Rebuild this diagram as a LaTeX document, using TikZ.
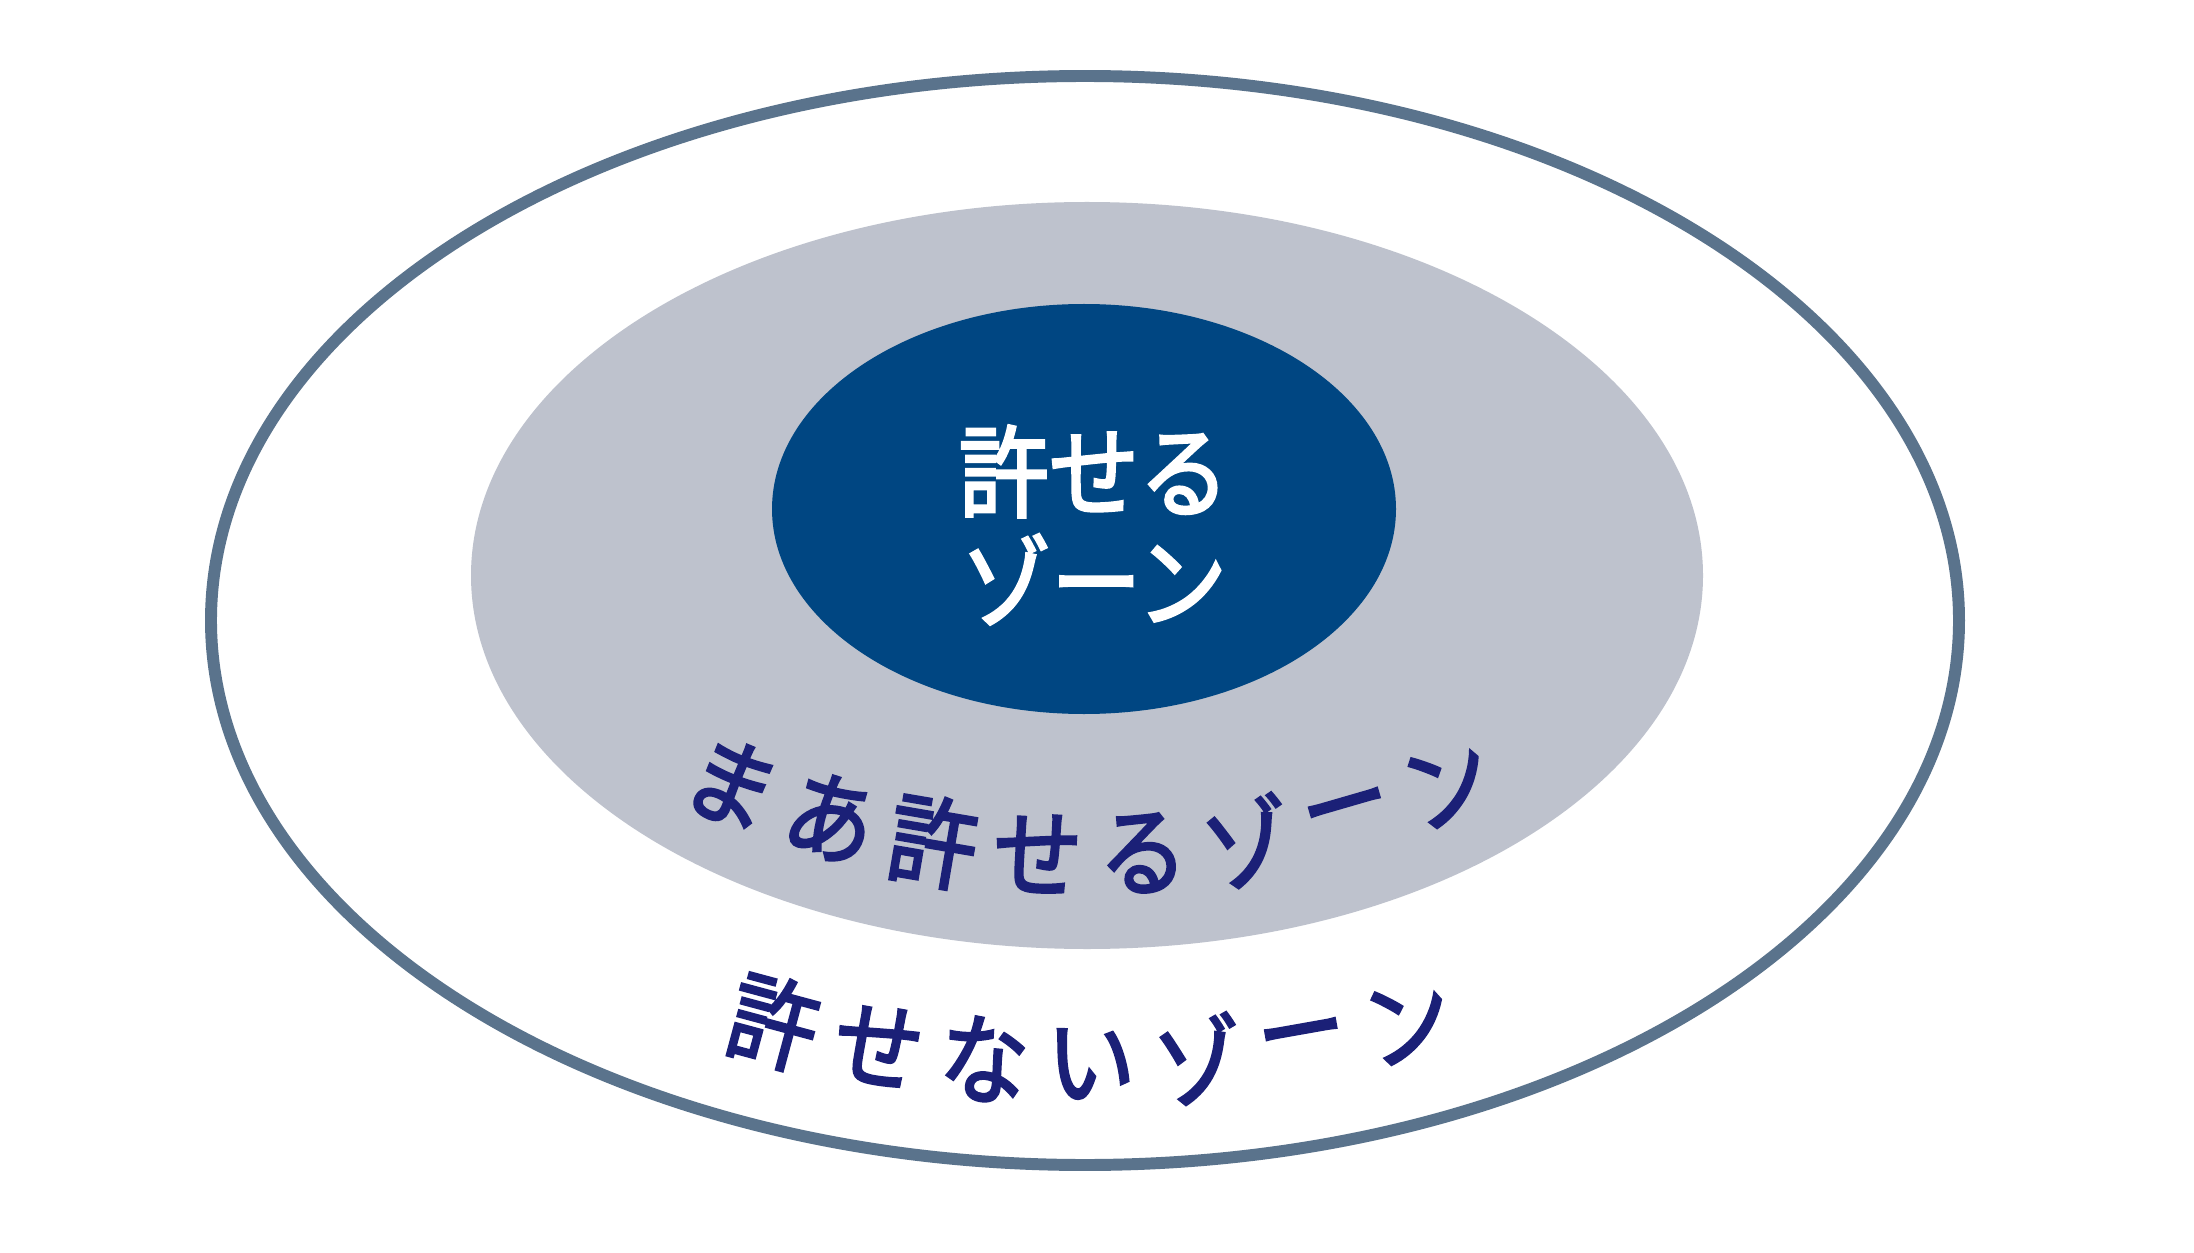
\documentclass[tikz,border=0pt]{standalone}
\usepackage{fontspec}
\newfontfamily\jpfont{Noto Sans CJK JP}[FakeStretch=0.9,FakeBold=2.6]
\usetikzlibrary{positioning,shapes}
\definecolor{zoneline}{HTML}{5A738C}
\definecolor{zonegray}{HTML}{BEC2CD}
\definecolor{zoneblue}{HTML}{004682}
\definecolor{zonenavy}{HTML}{1B2077}
\tikzstyle{zone}=[ellipse,inner sep=0pt]
\tikzstyle{zonetext}=[inner sep=0pt,text=zonenavy,font=\jpfont\fontsize{28pt}{31pt}\selectfont]
\newcommand{\newZone}[5]{\node[zone,#4,minimum width=#2,minimum height=#3](#1) at #5 {};}
\newcommand{\arcText}[6]{%
  \foreach \ch [count=\i, evaluate=\i as \ang using {(\i-1-(#6-1)/2)*#4}] in {#5}
    \node[zonetext,rotate=\ang] (#1-\i) at ([shift={(270+\ang:#3)}]#1-c) {\ch};}

\begin{document}
\begin{tikzpicture}[line width=3.4pt]
  \useasboundingbox[fill=white] (0,0) rectangle (21.94,12.52);
  \newZone{outer}{17.48cm}{10.89cm}{draw=zoneline,fill=white}{(10.85,6.315)}
  \newZone{middle}{12.32cm}{7.47cm}{fill=zonegray}{(10.87,6.765)}
  \newZone{inner}{6.24cm}{4.10cm}{fill=zoneblue}{(10.84,7.43)}

  % labels
  \node[zonetext,text=white,align=center,font=\jpfont\fontsize{28.5pt}{31.3pt}\selectfont,
        xshift=0.1cm,yshift=-0.16cm] (inner-text) at (inner.center) {許せる\\ゾーン};
  \coordinate (maa-c) at (10.90,13.28);
  \arcText{maa}{}{9.31}{6.46}{ま,あ,許,せ,る,ゾ,ー,ン}{8}
  \coordinate (nai-c) at (10.91,14.08);
  \arcText{nai}{}{12.20}{5.02}{許,せ,な,い,ゾ,ー,ン}{7}
\end{tikzpicture}
\end{document}
